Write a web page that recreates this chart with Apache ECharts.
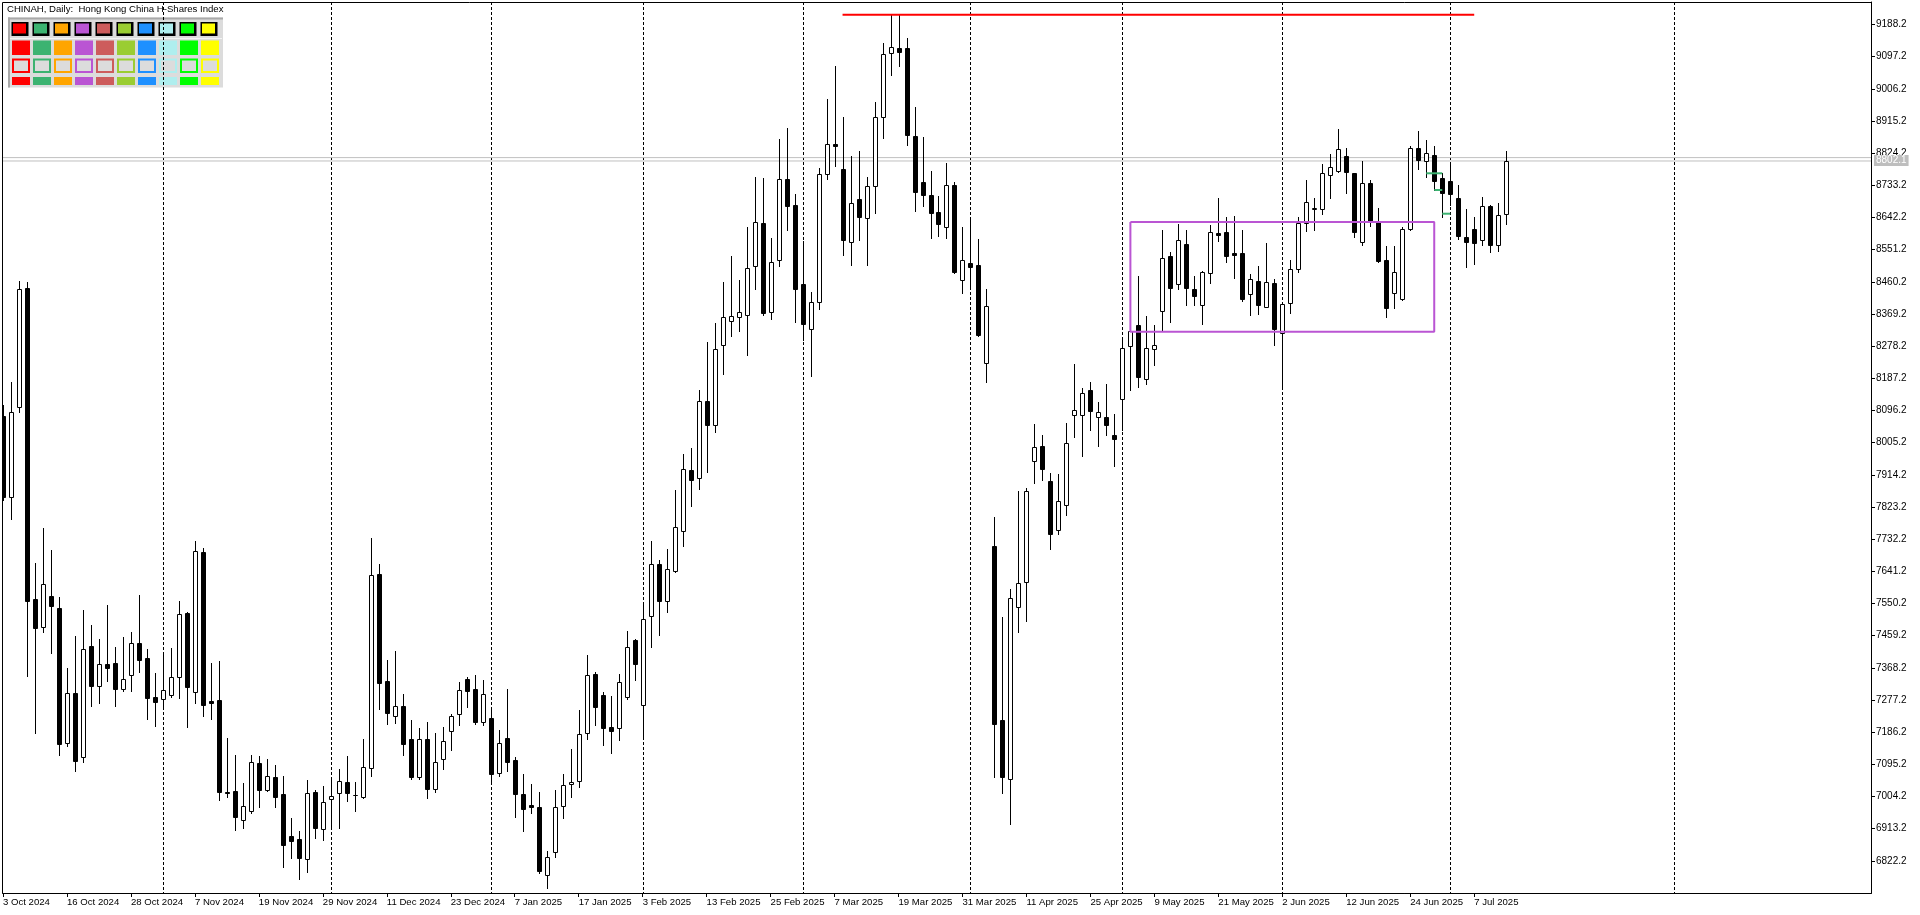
<!DOCTYPE html>
<html><head><meta charset="utf-8">
<script src="https://cdn.jsdelivr.net/npm/echarts@6/dist/echarts.min.js"></script>
<style>html,body{margin:0;padding:0;background:#fff}#c{width:1920px;height:915px}</style>
</head><body><div id="c"></div><script>
const dates = [
'3 Oct 2024','4 Oct 2024','7 Oct 2024','8 Oct 2024','9 Oct 2024','10 Oct 2024','14 Oct 2024','15 Oct 2024','16 Oct 2024','17 Oct 2024','18 Oct 2024','21 Oct 2024','22 Oct 2024','23 Oct 2024','24 Oct 2024','25 Oct 2024','28 Oct 2024','29 Oct 2024','30 Oct 2024','31 Oct 2024',
'1 Nov 2024','4 Nov 2024','5 Nov 2024','6 Nov 2024','7 Nov 2024','8 Nov 2024','11 Nov 2024','12 Nov 2024','13 Nov 2024','14 Nov 2024','15 Nov 2024','18 Nov 2024','19 Nov 2024','20 Nov 2024','21 Nov 2024','22 Nov 2024','25 Nov 2024','26 Nov 2024','27 Nov 2024','28 Nov 2024','29 Nov 2024',
'2 Dec 2024','3 Dec 2024','4 Dec 2024','5 Dec 2024','6 Dec 2024','9 Dec 2024','10 Dec 2024','11 Dec 2024','12 Dec 2024','13 Dec 2024','16 Dec 2024','17 Dec 2024','18 Dec 2024','19 Dec 2024','20 Dec 2024','23 Dec 2024','24 Dec 2024','27 Dec 2024','30 Dec 2024','31 Dec 2024',
'2 Jan 2025','3 Jan 2025','6 Jan 2025','7 Jan 2025','8 Jan 2025','9 Jan 2025','10 Jan 2025','13 Jan 2025','14 Jan 2025','15 Jan 2025','16 Jan 2025','17 Jan 2025','20 Jan 2025','21 Jan 2025','22 Jan 2025','23 Jan 2025','24 Jan 2025','27 Jan 2025','28 Jan 2025',
'3 Feb 2025','4 Feb 2025','5 Feb 2025','6 Feb 2025','7 Feb 2025','10 Feb 2025','11 Feb 2025','12 Feb 2025','13 Feb 2025','14 Feb 2025','17 Feb 2025','18 Feb 2025','19 Feb 2025','20 Feb 2025','21 Feb 2025','24 Feb 2025','25 Feb 2025','26 Feb 2025','27 Feb 2025','28 Feb 2025',
'3 Mar 2025','4 Mar 2025','5 Mar 2025','6 Mar 2025','7 Mar 2025','10 Mar 2025','11 Mar 2025','12 Mar 2025','13 Mar 2025','14 Mar 2025','17 Mar 2025','18 Mar 2025','19 Mar 2025','20 Mar 2025','21 Mar 2025','24 Mar 2025','25 Mar 2025','26 Mar 2025','27 Mar 2025','28 Mar 2025','31 Mar 2025',
'1 Apr 2025','2 Apr 2025','3 Apr 2025','7 Apr 2025','8 Apr 2025','9 Apr 2025','10 Apr 2025','11 Apr 2025','14 Apr 2025','15 Apr 2025','16 Apr 2025','17 Apr 2025','22 Apr 2025','23 Apr 2025','24 Apr 2025','25 Apr 2025','28 Apr 2025','29 Apr 2025','30 Apr 2025',
'2 May 2025','6 May 2025','7 May 2025','8 May 2025','9 May 2025','12 May 2025','13 May 2025','14 May 2025','15 May 2025','16 May 2025','19 May 2025','20 May 2025','21 May 2025','22 May 2025','23 May 2025','26 May 2025','27 May 2025','28 May 2025','29 May 2025','30 May 2025',
'2 Jun 2025','3 Jun 2025','4 Jun 2025','5 Jun 2025','6 Jun 2025','9 Jun 2025','10 Jun 2025','11 Jun 2025','12 Jun 2025','13 Jun 2025','16 Jun 2025','17 Jun 2025','18 Jun 2025','19 Jun 2025','20 Jun 2025','23 Jun 2025','24 Jun 2025','25 Jun 2025','26 Jun 2025','27 Jun 2025','30 Jun 2025',
'2 Jul 2025','3 Jul 2025','4 Jul 2025','7 Jul 2025','8 Jul 2025','9 Jul 2025','10 Jul 2025','11 Jul 2025'
];
const open = [
8081,7852,8105,8442,7562,7485,7571,7538,7155,7296,
7115,7430,7316,7378,7382,7309,7349,7438,7396,7285,
7279,7290,7342,7523,7301,7696,7275,7277,7016,7020,
6937,6962,7098,7022,7059,7011,6892,6884,6827,7017,
6912,6996,7013,7045,7008,7004,7084,7634,7330,7233,
7260,7166,7058,7166,7025,7110,7189,7237,7336,7308,
7214,7226,7070,7169,7108,7011,6979,6974,6781,6846,
6977,7039,7047,7183,7350,7291,7200,7197,7285,7446,
7262,7516,7661,7557,7643,7755,7927,7905,8124,8054,
8281,8349,8360,8365,8504,8626,8374,8523,8750,8677,
8453,8326,8402,8764,8849,8779,8572,8694,8642,8731,
8926,9109,9121,9121,8872,8744,8707,8659,8614,8733,
8466,8514,8508,8232,7712,7221,7054,7540,7610,7952,
7996,7897,7758,7828,8083,8083,8153,8078,8079,8026,
8128,8278,8338,8185,8270,8377,8532,8453,8566,8439,
8396,8486,8597,8600,8541,8541,8425,8462,8390,8457,
8315,8400,8497,8626,8667,8667,8762,8775,8815,8767,
8574,8739,8630,8521,8428,8411,8609,8838,8801,8819,
8754,8746,8697,8587,8610,8578,8674,8564,8651
];
const high = [
8112,8177,8463,8460,7664,7764,7702,7568,7368,7458,
7532,7490,7450,7546,7427,7456,7470,7574,7422,7354,
7407,7424,7557,7527,7727,7707,7382,7388,7170,7122,
7041,7122,7119,7110,7093,7062,6944,6908,7050,7023,
7034,7051,7082,7119,7045,7167,7736,7662,7391,7416,
7294,7221,7198,7215,7184,7201,7238,7327,7342,7348,
7333,7248,7192,7308,7115,7067,7039,7016,6849,7023,
7068,7139,7248,7404,7356,7299,7288,7351,7472,7449,
7554,7727,7673,7705,7871,7973,7989,8153,8289,8343,
8461,8534,8466,8615,8757,8754,8584,8864,8895,8709,
8575,8431,8782,8978,9071,8927,8816,8830,8756,8968,
9136,9216,9214,9151,8954,8870,8773,8703,8797,8742,
8616,8641,8582,8441,7794,7512,7591,7869,7877,8058,
8028,7919,7917,8062,8228,8161,8177,8121,8171,8085,
8302,8350,8477,8363,8338,8607,8544,8623,8607,8477,
8491,8621,8698,8645,8646,8607,8483,8505,8570,8468,
8400,8522,8643,8748,8697,8794,8822,8893,8838,8769,
8802,8748,8669,8562,8562,8615,8845,8887,8862,8845,
8767,8794,8734,8666,8643,8699,8677,8683,8830
];
const low = [
7843,7790,8093,7346,7185,7470,7411,7123,7148,7075,
7103,7261,7270,7332,7261,7304,7304,7357,7224,7205,
7258,7287,7284,7202,7270,7233,7224,6994,7002,6910,
6915,6958,6975,7019,6975,6806,6831,6772,6792,6888,
6881,6919,6916,6992,6964,7001,7062,7253,7210,7213,
7123,7055,7055,7001,7018,7083,7137,7207,7257,7210,
7206,7039,7061,7077,6946,6906,6957,6789,6745,6832,
6942,7004,7030,7168,7207,7151,7128,7163,7280,7335,
7174,7428,7462,7526,7639,7712,7825,7873,7923,8034,
8200,8307,8320,8254,8441,8366,8356,8506,8606,8348,
8296,8195,8382,8750,8789,8535,8509,8578,8509,8656,
8868,9045,9072,8846,8661,8676,8585,8591,8585,8486,
8429,8447,8308,8176,7058,7014,6927,7471,7501,7890,
7901,7704,7746,7800,8022,7968,8042,7995,8028,7938,
8042,8153,8164,8172,8226,8323,8348,8439,8396,8396,
8340,8456,8576,8515,8471,8407,8367,8370,8389,8282,
8158,8373,8489,8605,8607,8653,8698,8772,8712,8588,
8565,8619,8517,8362,8387,8409,8607,8780,8758,8720,
8645,8678,8581,8503,8511,8565,8546,8548,8625
];
const close = [
7852,8091,8439,7558,7482,7605,7544,7152,7296,7106,
7422,7318,7378,7369,7309,7336,7438,7391,7284,7272,
7305,7342,7521,7315,7699,7264,7270,7018,7013,6947,
6977,7101,7024,7061,7004,6868,6879,6830,7013,6916,
6990,7005,7047,7013,7008,7087,7630,7325,7240,7260,
7154,7058,7166,7025,7101,7161,7231,7305,7302,7216,
7293,7069,7155,7101,7012,6968,6975,6793,6834,6974,
7036,7045,7180,7347,7258,7197,7189,7327,7426,7378,
7506,7661,7557,7647,7767,7930,7901,8124,8054,8269,
8361,8363,8376,8498,8629,8373,8515,8750,8674,8440,
8340,8402,8764,8849,8844,8578,8683,8645,8731,8926,
9104,9124,9111,8877,8715,8705,8656,8623,8733,8489,
8522,8501,8310,8391,7208,7058,7566,7608,7869,7994,
7932,7748,7839,8003,8099,8147,8094,8091,8054,8015,
8272,8320,8191,8272,8281,8529,8444,8578,8442,8420,
8488,8600,8593,8534,8535,8413,8468,8396,8459,8327,
8397,8496,8626,8685,8669,8767,8784,8835,8770,8602,
8739,8630,8520,8387,8487,8609,8838,8806,8824,8746,
8712,8710,8591,8574,8571,8674,8565,8649,8802.1
];
// horizontal price levels drawn on the chart
const highLevel = 9216;           // red line at the March high
const highLevelSpan = [105, 184]; // bar indices
const boxTop = 8629.6, boxBottom = 8319.2; // purple range box
const boxSpan = [141, 179];
const greenMarks = [[178, 180, 8767.3], [179, 180, 8720.1], [180, 181, 8653.0]];
const lastPrice = 8802.1, askPrice = 8811.7;
const futureSeparators = [209];
// y-axis tick labels: 6822.2 ... 9188.2 in steps of 91
const yAxisRange = [6731.2, 9251.9];
const yTickStep = 91;
const visibleSlots = 233.625;
const paletteColors = ['#FF0000','#3CB371','#FFA500','#BA55D3','#CD5C5C','#9ACD32','#1E90FF','#AFEEEE','#00FF00','#FFFF00'];

const labelIdx = dates.map((d, i) => i).filter(i => i % 8 === 0);
const monthSeparators = dates.map((d, i) => i).filter(i => i > 0 && dates[i].split(' ')[1] !== dates[i - 1].split(' ')[1]);
const separators = monthSeparators.concat(futureSeparators);
const candleData = dates.map((d, i) => [i, open[i], close[i], low[i], high[i]]);

function renderCandle(params, api) {
  const i = api.value(0);
  const pO = api.coord([i, api.value(1)]);
  const pC = api.coord([i, api.value(2)]);
  const pL = api.coord([i, api.value(3)]);
  const pH = api.coord([i, api.value(4)]);
  const x = Math.round(pO[0]) + 0.5;
  const yO = Math.round(pO[1]), yC = Math.round(pC[1]), yL = Math.round(pL[1]), yH = Math.round(pH[1]);
  const up = api.value(2) >= api.value(1);
  const top = Math.min(yO, yC), bot = Math.max(yO, yC);
  return {type: 'group', children: [
    {type: 'line', shape: {x1: x, y1: yH, x2: x, y2: yL + 1}, style: {stroke: '#000', lineWidth: 1}},
    {type: 'rect', shape: {x: x - 2, y: top + 0.5, width: 4, height: bot - top}, style: {fill: up ? '#fff' : '#000', stroke: '#000', lineWidth: 1}}
  ]};
}
function renderSeparator(params, api) {
  const cs = params.coordSys;
  const x = Math.round(api.coord([api.value(0), yAxisRange[0]])[0]) + 0.5;
  return {type: 'line', shape: {x1: x, y1: cs.y, x2: x, y2: cs.y + cs.height}, style: {stroke: '#000', lineWidth: 1, lineDash: [3, 2]}};
}
function renderPriceTag(params, api) {
  const p = api.coord([api.value(0), api.value(1)]);
  return {type: 'text', x: Math.round(p[0]) + 3, y: Math.round(p[1]) - 0.5,
    style: {text: api.value(1).toFixed(1), fill: '#fff', backgroundColor: '#BEBEBE', padding: [1, 2, 0, 2],
      fontSize: 10, fontFamily: 'Liberation Sans, Arial, sans-serif', verticalAlign: 'middle', align: 'left'}};
}

const font = 'Liberation Sans, Arial, sans-serif';
const graphics = [];
// title
graphics.push({type: 'text', z: 1, style: {text: 'CHINAH, Daily:  Hong Kong China H-Shares Index', x: 7, y: 9.5, verticalAlign: 'middle', fontSize: 9.6, fontFamily: font, fill: '#000'}});
// colour palette panel
graphics.push({type: 'rect', z: 1, shape: {x: 8, y: 17.5, width: 215, height: 70}, style: {fill: '#DCDCDC'}});
graphics.push({type: 'rect', z: 1, shape: {x: 8, y: 17.5, width: 215, height: 2}, style: {fill: '#A9A9A9'}});
graphics.push({type: 'rect', z: 1, shape: {x: 8, y: 17.5, width: 2, height: 70}, style: {fill: '#A9A9A9'}});
graphics.push({type: 'line', z: 1, shape: {x1: 10, y1: 38.5, x2: 222, y2: 38.5}, style: {stroke: '#F4F4F4', lineWidth: 1}});
paletteColors.forEach((c, k) => {
  const bx = 11.5 + 21 * k;
  graphics.push({type: 'rect', z: 1, shape: {x: bx, y: 22, width: 17, height: 14}, style: {fill: '#000'}});
  graphics.push({type: 'rect', z: 1, shape: {x: bx + 1.5, y: 23.5, width: 13, height: 10}, style: {fill: c}});
  graphics.push({type: 'rect', z: 1, shape: {x: bx + 0.5, y: 40.5, width: 18, height: 14.5}, style: {fill: c}});
  graphics.push({type: 'rect', z: 1, shape: {x: bx + 1.5, y: 59.5, width: 16, height: 12.5}, style: {fill: '#DCDCDC', stroke: c, lineWidth: 2}});
  graphics.push({type: 'rect', z: 1, shape: {x: bx + 0.5, y: 77, width: 18, height: 8}, style: {fill: c}});
});
// plot frame (top and left edges)
graphics.push({type: 'rect', z: 50, shape: {x: 2.5, y: 2.5, width: 1869, height: 891}, style: {fill: 'none', stroke: '#000', lineWidth: 1}});

const option = {
  animation: false,
  backgroundColor: '#fff',
  grid: {left: 2, top: 2, right: 49, bottom: 22, containLabel: false},
  xAxis: {
    type: 'value', min: 0, max: visibleSlots,
    axisLine: {show: true, onZero: false, lineStyle: {color: '#000', width: 1}},
    axisTick: {show: true, customValues: labelIdx, length: 4, lineStyle: {color: '#000'}},
    axisLabel: {show: true, customValues: labelIdx, formatter: v => dates[v] || '', align: 'left', margin: 4, fontSize: 9.6, fontFamily: font, color: '#000'},
    splitLine: {show: false}
  },
  yAxis: {
    type: 'value', position: 'right', min: yAxisRange[0], max: yAxisRange[1], interval: yTickStep,
    axisLine: {show: true, onZero: false, lineStyle: {color: '#000', width: 1}},
    axisTick: {show: true, length: 4, lineStyle: {color: '#000'}},
    axisLabel: {show: true, margin: 5, fontSize: 10, fontFamily: font, color: '#000', formatter: v => v.toFixed(1), showMinLabel: false, showMaxLabel: false},
    splitLine: {show: false}
  },
  graphic: graphics,
  series: [
    {type: 'custom', name: 'separators', data: separators.map(i => [i, yAxisRange[0]]), encode: {x: 0, y: 1}, renderItem: renderSeparator, clip: true, z: 2, silent: true},
    {type: 'line', name: 'ask', data: [[0, askPrice], [visibleSlots, askPrice]], symbol: 'none', lineStyle: {color: '#C0C0C0', width: 1}, z: 2, silent: true},
    {type: 'line', name: 'bid', data: [[0, lastPrice], [visibleSlots, lastPrice]], symbol: 'none', lineStyle: {color: '#C0C0C0', width: 1}, z: 2, silent: true},
    {type: 'custom', name: 'CHINAH', data: candleData, encode: {x: 0, y: [1, 2, 3, 4]}, renderItem: renderCandle, clip: true, z: 3},
    {type: 'line', name: 'high', data: [[highLevelSpan[0], highLevel], [highLevelSpan[1], highLevel]], symbol: 'none', lineStyle: {color: '#FF0000', width: 2}, z: 4, silent: true},
    {type: 'line', name: 'range', data: [[boxSpan[0], boxTop], [boxSpan[1], boxTop], [boxSpan[1], boxBottom], [boxSpan[0], boxBottom], [boxSpan[0], boxTop]], symbol: 'none', lineStyle: {color: '#BA55D3', width: 2}, z: 4, silent: true},
    {type: 'custom', name: 'priceTag', data: [[visibleSlots, lastPrice]], encode: {x: 0, y: 1}, renderItem: renderPriceTag, clip: false, z: 60, silent: true}
  ].concat(greenMarks.map(g => ({type: 'line', data: [[g[0], g[2]], [g[1], g[2]]], symbol: 'none', lineStyle: {color: '#3CB371', width: 2}, z: 4, silent: true})))
};
const chart = echarts.init(document.getElementById('c'), null, {renderer: 'canvas'});
chart.setOption(option);
</script></body></html>
